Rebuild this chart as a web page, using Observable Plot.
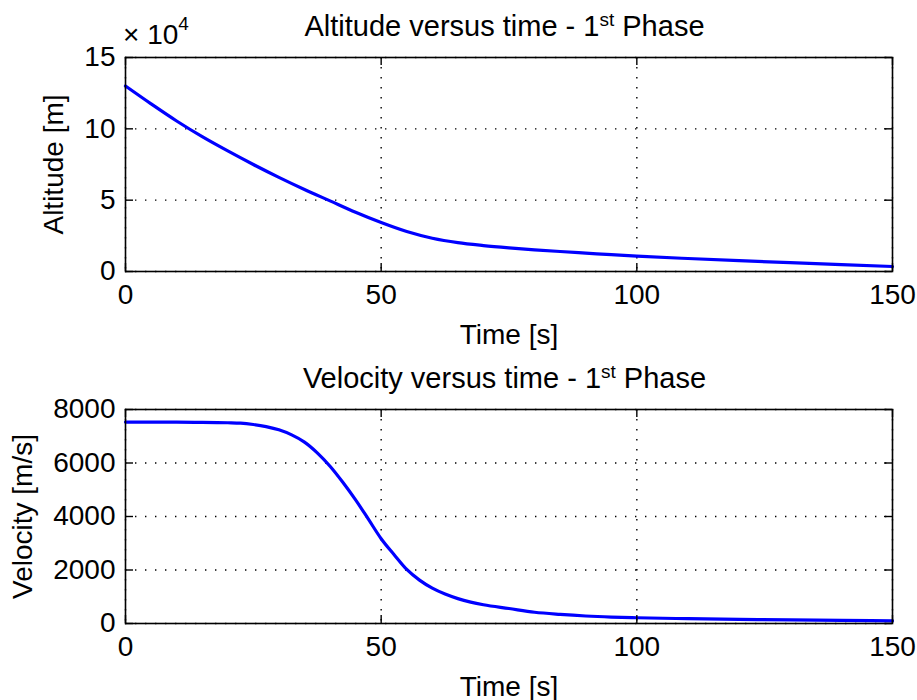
<!DOCTYPE html>
<html>
<head>
<meta charset="utf-8">
<script src="https://cdn.jsdelivr.net/npm/d3@7"></script>
<script src="https://cdn.jsdelivr.net/npm/@observablehq/plot@0.6"></script>
<style>
  html, body { margin: 0; padding: 0; background: #fff; }
  #chart { width: 917px; height: 700px; position: relative; overflow: hidden; }
  #chart svg { display: block; }
</style>
</head>
<body>
<div id="chart"></div>
<script>
// ---- data ----
const xTicks = [0, 50, 100, 150];

const altTimes = [0, 5, 10, 15, 20, 25, 30, 35, 40, 45, 50, 55, 60, 65, 70, 75, 80, 85, 90, 95, 100, 110, 120, 130, 140, 150];
const altitude = [130000, 117500, 105500, 94500, 84500, 75000, 66000, 57500, 49500, 41500, 34300, 28000, 23300, 20200, 18200, 16600, 15200, 14000, 12900, 11800, 10800, 9100, 7600, 6200, 4800, 3500];
const altTicks = [0, 50000, 100000, 150000];

const velTimes = [0, 5, 10, 15, 20, 22.5, 25, 27.5, 30, 32.5, 35, 37.5, 40, 42.5, 45, 47.5, 50, 52.5, 55, 57.5, 60, 62.5, 65, 67.5, 70, 75, 80, 85, 90, 95, 100, 110, 120, 130, 140, 150];
const velocity = [7530, 7530, 7525, 7520, 7505, 7490, 7440, 7360, 7240, 7050, 6780, 6380, 5880, 5280, 4620, 3900, 3170, 2580, 2020, 1620, 1320, 1100, 930, 800, 700, 560, 420, 340, 280, 240, 215, 180, 155, 135, 120, 100];
const velTicks = [0, 2000, 4000, 6000, 8000];

const titles = ["Altitude versus time - 1", "Velocity versus time - 1"];
const titleSup = "st";
const titleEnd = " Phase";
const xLabel = "Time [s]";
const yLabels = ["Altitude [m]", "Velocity [m/s]"];
const expBase = "\u00d7 10", expPow = "4";

// ---- layout ----
const W = 917, H = 350;
const FONT = "'Liberation Sans', Arial, Helvetica, sans-serif";

function panel({times, values, yTicks, yDomain, yFormat, yLabel, marginTop, labelOffsetY, title}) {
  const data = times.map((t, i) => ({t, v: values[i]}));
  const mL = 125, mR = 25, innerH = 214;
  const mB = H - marginTop - innerH;
  const innerW = W - mL - mR;
  const tick = 8;
  const dots = {stroke: "#000", strokeWidth: 1.4, strokeDasharray: "1.4,8.6"};
  const svg = Plot.plot({
    width: W, height: H,
    marginLeft: mL, marginRight: mR, marginTop, marginBottom: mB,
    style: {fontFamily: FONT, fontSize: "28px", color: "#000", background: "#fff", overflow: "visible"},
    x: {domain: [0, 150], ticks: xTicks, tickFormat: d => String(d), tickSize: 0, tickPadding: 13,
        label: xLabel, labelAnchor: "center", labelOffset: 72, labelArrow: "none"},
    y: {domain: yDomain, ticks: yTicks, tickFormat: yFormat, tickSize: 0, tickPadding: 10,
        label: yLabel, labelAnchor: "center", labelOffset: labelOffsetY, labelArrow: "none"},
    marks: [
      Plot.ruleX(xTicks, {x: d => d, ...dots}),
      Plot.ruleY(yTicks, {y: d => d, ...dots}),
      Plot.line(data, {x: "t", y: "v", stroke: "#0000ff", strokeWidth: 3.2, curve: "monotone-x"}),
      Plot.ruleX(xTicks, {x: d => d, insetTop: innerH - tick, stroke: "#000", strokeWidth: 1.4}),
      Plot.ruleX(xTicks, {x: d => d, insetBottom: innerH - tick, stroke: "#000", strokeWidth: 1.4}),
      Plot.ruleY(yTicks, {y: d => d, insetRight: innerW - tick, stroke: "#000", strokeWidth: 1.4}),
      Plot.ruleY(yTicks, {y: d => d, insetLeft: innerW - tick, stroke: "#000", strokeWidth: 1.4}),
      Plot.frame({stroke: "#000", strokeWidth: 1.6})
    ]
  });
  // title with superscript
  const s = d3.select(svg);
  const t = s.append("text")
    .attr("x", mL + innerW / 2 - 4).attr("y", marginTop - 21)
    .attr("text-anchor", "middle")
    .style("font-family", FONT).style("font-size", "29px").attr("fill", "#000");
  t.append("tspan").text(title);
  t.append("tspan").attr("dy", -10).style("font-size", "19px").text(titleSup);
  t.append("tspan").attr("dy", 10).text(titleEnd);
  return svg;
}

const chart = document.getElementById("chart");
const svg1 = panel({
  times: altTimes, values: altitude, yTicks: altTicks, yDomain: [0, 150000],
  yFormat: d => String(d / 1e4), yLabel: yLabels[0], marginTop: 57, labelOffsetY: 82, title: titles[0]
});
// exponent label  ×10^4
const ex = d3.select(svg1).append("text")
  .attr("x", 123).attr("y", 44).attr("text-anchor", "start")
  .style("font-family", FONT).style("font-size", "28px").attr("fill", "#000");
ex.append("tspan").text(expBase);
ex.append("tspan").attr("dy", -14).style("font-size", "19px").text(expPow);
chart.appendChild(svg1);

const svg2 = panel({
  times: velTimes, values: velocity, yTicks: velTicks, yDomain: [0, 8000],
  yFormat: d => String(d), yLabel: yLabels[1], marginTop: 59, labelOffsetY: 113, title: titles[1]
});
chart.appendChild(svg2);
</script>
</body>
</html>
